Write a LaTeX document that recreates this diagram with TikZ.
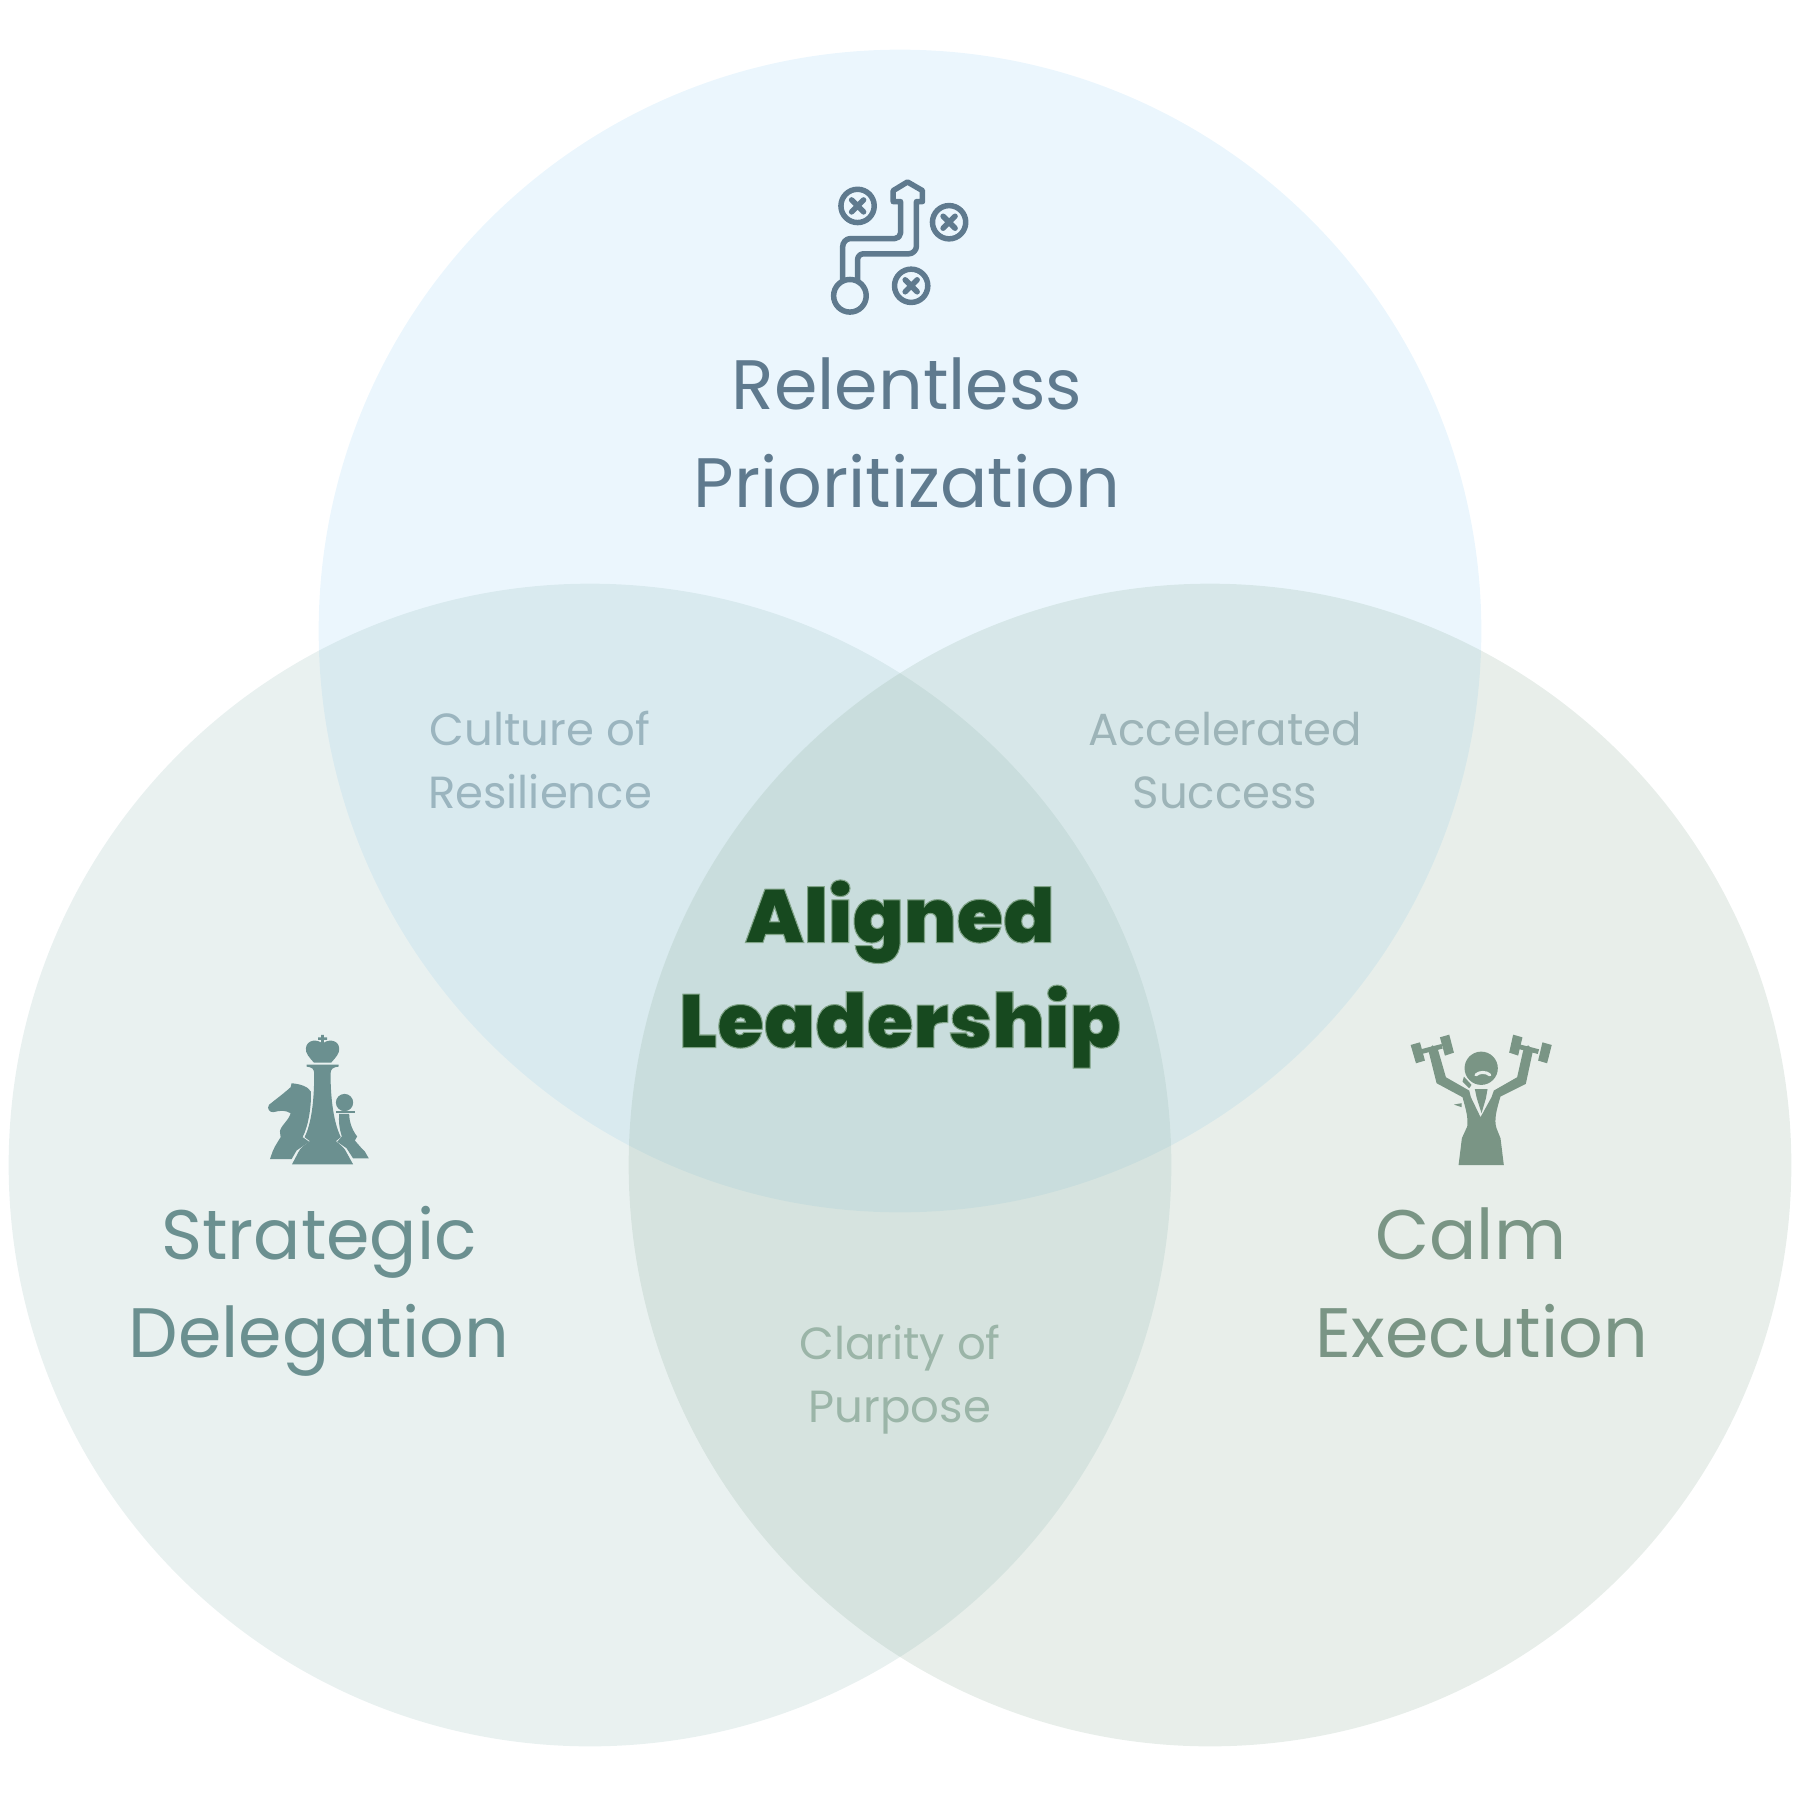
\documentclass[tikz,border=0pt]{standalone}
\usepackage{fontspec}
\usepackage{xcolor}
\setmainfont{Poppins}
\newfontfamily\poppinsblack{Poppins Black}
\usetikzlibrary{positioning}
\definecolor{cTop}{RGB}{155,212,245}
\definecolor{cLeft}{RGB}{147,185,182}
\definecolor{cRight}{RGB}{138,172,152}
\definecolor{cSlate}{HTML}{5F7A8E}
\definecolor{cSea}{HTML}{6B9090}
\definecolor{cSage}{HTML}{7A9585}
\definecolor{cPaleTop}{HTML}{9BB5BF}
\definecolor{cPaleMix}{HTML}{9DB4B8}
\definecolor{cPaleLow}{HTML}{9BB5A8}
\definecolor{cForest}{HTML}{17491F}
\definecolor{cBgRight}{HTML}{E8EEEB}
\newcommand{\strokedtext}[1]{\special{pdf:code 2 Tr 0.3 w 0.5 0.64 0.53 RG}#1\special{pdf:code 0 Tr}}
\tikzset{
  venn/.style={circle,fill=#1,fill opacity=0.2,minimum size=11.62cm,inner sep=0pt},
  pillar/.style={text=#1,align=center,font=\fontsize{19.9}{27.9}\selectfont,inner sep=0pt},
  overlap/.style={text=#1,align=center,font=\fontsize{12.8}{17.9}\selectfont,inner sep=0pt},
  core/.style={text=cForest,align=center,font=\fontsize{21.5}{29.9}\selectfont\poppinsblack,inner sep=0pt},
  iconline/.style={draw=cSlate,line width=0.55mm,line join=round,line cap=round},
}
\begin{document}
\begin{tikzpicture}[x=0.01cm,y=-0.01cm]
    \useasboundingbox (0,0) rectangle (1800,1800);
    \node[venn=cTop] (top) at (900,631) {};
    \node[venn=cLeft] (left) at (590,1165) {};
    \node[venn=cRight] (right) at (1210,1165) {};

    \node[pillar=cSlate] (relentless) at (907,433) {Relentless\\Prioritization};
    \node[pillar=cSea] (strategic) at (319,1291) {Strategic\\Delegation};
    \node[pillar=cSage] (calm) at (1482,1283) {Calm\hspace*{0.32em}\\Execution};
    \node[overlap=cPaleTop] (culture) at (540,760) {Culture of\\Resilience};
    \node[overlap=cPaleMix] (success) at (1225,761) {Accelerated\\Success};
    \node[overlap=cPaleLow] (clarity) at (900,1380) {Clarity of\\Purpose};
    \node[core] (aligned) at (900,974) {\strokedtext{Aligned\\Leadership}};

    \begin{scope}[shift={(800,160)},x=0.00333cm,y=-0.00333cm]
      \draw[iconline] (173,138) circle[radius=50];
      \draw[iconline] (448,187) circle[radius=50];
      \draw[iconline] (334,378) circle[radius=50];
      \foreach \cx/\cy in {173/138,448/187,334/378}{
        \draw[iconline] (\cx-18,\cy-18) -- (\cx+18,\cy+18) (\cx-18,\cy+18) -- (\cx+18,\cy-18);
      }
      \draw[iconline] (150,408) circle[radius=49];
      \draw[iconline] (128,360) -- (128,262) to[out=90,in=180] (152,236) -- (285,236)
        to[out=0,in=-90] (302,220) -- (302,125) -- (280,125) -- (280,92) -- (323,66)
        -- (368,92) -- (368,125) -- (350,125) -- (350,258) to[out=-90,in=0] (326,282)
        -- (190,282) to[out=180,in=90] (173,300) -- (173,360);
    \end{scope}

    \begin{scope}[shift={(250,1020)},x=0.00333cm,y=-0.00333cm,fill=cSea]
      \fill (214,45) rectangle (222,72) (205,52) rectangle (232,60);
      \fill (192,128) .. controls (178,112) and (166,100) .. (168,85)
        .. controls (170,58) and (205,56) .. (218,72)
        .. controls (232,56) and (266,58) .. (268,85)
        .. controls (270,100) and (258,112) .. (244,128) -- cycle;
      \fill (170,134) -- (266,134) -- (266,140) .. controls (250,142) and (243,146) .. (242,160)
        .. controls (242,240) and (252,310) .. (273,352) -- (258,364)
        .. controls (272,375) and (285,385) .. (290,398) -- (310,434) -- (126,434) -- (145,398)
        .. controls (150,385) and (165,375) .. (180,364) -- (164,352)
        .. controls (185,310) and (193,240) .. (193,160)
        .. controls (192,146) and (186,142) .. (170,140) -- cycle;
      \fill (183,215) .. controls (175,200) and (150,192) .. (125,190) -- (122,202)
        .. controls (100,222) and (75,240) .. (57,255)
        .. controls (50,265) and (58,278) .. (70,277)
        .. controls (90,272) and (105,270) .. (122,280)
        .. controls (118,300) and (90,320) .. (90,335) -- (92,352) -- (75,380) -- (68,395) -- (60,418)
        -- (125,418) -- (140,392) -- (178,366) -- (158,352)
        .. controls (175,320) and (185,260) .. (183,215) -- cycle;
      \fill (284,248) circle[radius=26];
      \fill (258,272) rectangle (314,280);
      \fill (268,282) -- (298,282) .. controls (298,310) and (310,335) .. (322,350) -- (315,362) -- (335,385)
        -- (345,395) -- (357,416) -- (310,416) -- (290,385) -- (262,366) -- (276,350)
        .. controls (268,325) and (266,305) .. (268,282) -- cycle;
    \end{scope}

    \begin{scope}[shift={(1390,1020)},x=0.00333cm,y=-0.00333cm,fill=cSage]
      \fill (62,75) -- (90,67) -- (105,122) -- (78,130) -- cycle;
      \fill (150,52) -- (178,44) -- (192,98) -- (165,107) -- cycle;
      \fill (358,98) -- (370,44) -- (398,52) -- (385,107) -- cycle;
      \fill (445,122) -- (458,67) -- (486,75) -- (472,130) -- cycle;
      \fill (92,88) -- (155,72) -- (158,86) -- (96,102) -- cycle;
      \fill (385,72) -- (448,88) -- (444,102) -- (382,86) -- cycle;
      \fill (274,145) circle[radius=50];
      \fill (115,90) -- (128,76) -- (145,92) -- (168,172) -- (238,212) -- (243,232) -- (272,292) -- (305,232)
        -- (312,212) -- (382,172) -- (400,92) -- (415,76) -- (430,90) -- (408,192) -- (332,230)
        .. controls (320,270) and (312,300) .. (320,325) -- (332,355) -- (342,436) -- (206,436) -- (216,355)
        -- (232,320) .. controls (236,290) and (225,260) .. (218,232) -- (140,190) -- cycle;
      \fill (255,208) -- (293,208) -- (288,236) -- (275,280) -- (261,236) -- cycle;
      \fill (222,170) -- (245,195) -- (238,205) -- (218,185) -- cycle;
      \fill (192,254) -- (215,250) -- (215,262) -- cycle;
      \draw[cBgRight,line width=0.3mm,line cap=round] (258,165) .. controls (268,155) and (290,155) .. (300,165);
    \end{scope}
  \end{tikzpicture}
\end{document}
